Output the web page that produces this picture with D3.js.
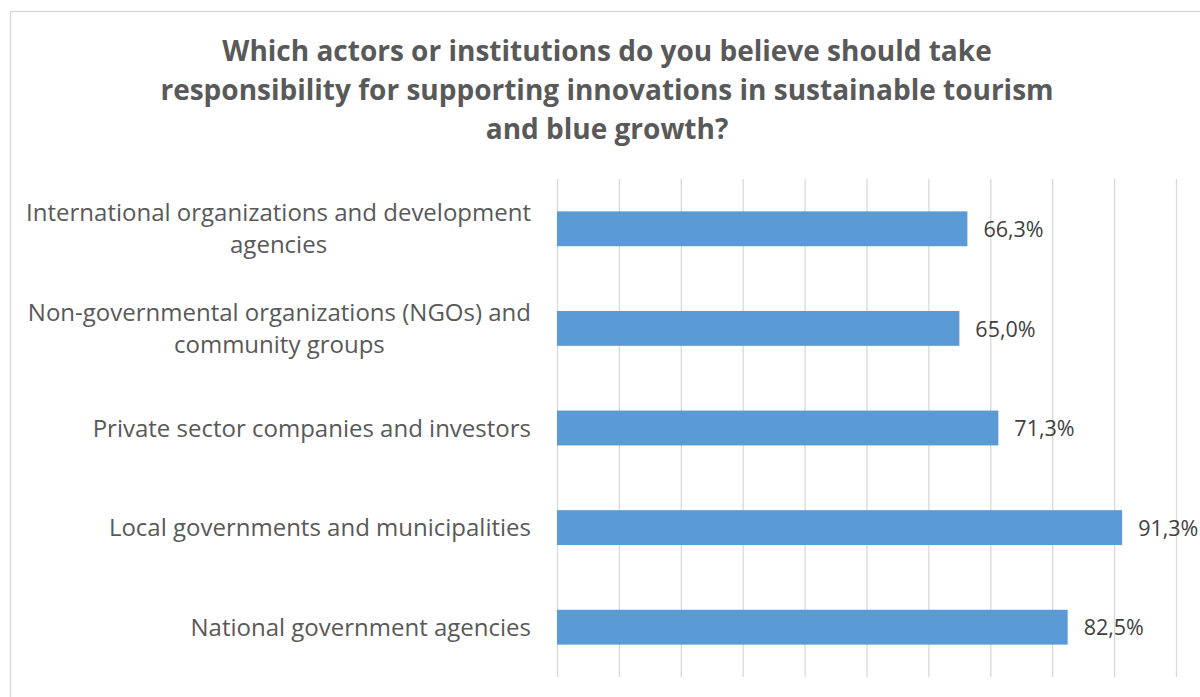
<!DOCTYPE html>
<html>
<head>
<meta charset="utf-8">
<script src="https://cdn.jsdelivr.net/npm/d3@7"></script>
<style>
  html, body { margin: 0; padding: 0; background: #fff; }
  svg { display: block; }
</style>
</head>
<body>
<svg id="chart" width="1200" height="697"></svg>
<script>
// Survey question and responses
const titleLines = [
  "Which actors or institutions do you believe should take",
  "responsibility for supporting innovations in sustainable tourism",
  "and blue growth?"
];
const categories = [
  ["International organizations and development", "agencies"],
  ["Non-governmental organizations (NGOs) and", "community groups"],
  ["Private sector companies and investors"],
  ["Local governments and municipalities"],
  ["National government agencies"]
];
const values = [66.3, 65.0, 71.3, 91.3, 82.5];
const gridTicks = [0, 10, 20, 30, 40, 50, 60, 70, 80, 90, 100];

const svg = d3.select("#chart");
const plot = { left: 557, right: 1176, top: 179, bottom: 677 };
const font = "'Open Sans', 'Noto Sans', sans-serif";

// Chart frame
svg.append("rect")
  .attr("x", 10.5).attr("y", 11.5)
  .attr("width", 1300).attr("height", 800)
  .attr("fill", "#fff").attr("stroke", "#d9d9d9").attr("stroke-width", 1.5);

// Title
svg.append("g").selectAll("text")
  .data(titleLines)
  .join("text")
  .attr("x", 607)
  .attr("y", (d, i) => 61 + i * 39)
  .attr("text-anchor", "middle")
  .attr("font-family", font)
  .attr("font-weight", 700)
  .attr("font-size", 28)
  .attr("fill", "#595959")
  .text(d => d);

const x = d3.scaleLinear().domain([0, 100]).range([plot.left, plot.right]);
const y = d3.scaleBand()
  .domain(d3.range(categories.length))
  .range([plot.top, plot.bottom])
  .paddingInner(0.65).paddingOuter(0.325);

// Vertical gridlines
svg.append("g")
  .attr("transform", `translate(0,${plot.bottom})`)
  .call(d3.axisBottom(x).tickValues(gridTicks).tickSize(-(plot.bottom - plot.top)).tickFormat(""))
  .call(g => g.select(".domain").remove())
  .call(g => g.selectAll(".tick line").attr("stroke", "#d9d9d9").attr("stroke-width", 1.3));

// Bars
svg.append("g").selectAll("rect")
  .data(values)
  .join("rect")
  .attr("x", x(0))
  .attr("y", (d, i) => y(i))
  .attr("width", d => x(d) - x(0))
  .attr("height", y.bandwidth())
  .attr("fill", "#5b9bd5");

// Value labels
const fmt = v => v.toFixed(1).replace(".", ",") + "%";
svg.append("g").selectAll("text")
  .data(values)
  .join("text")
  .attr("x", d => x(d) + 16)
  .attr("y", (d, i) => y(i) + y.bandwidth() / 2)
  .attr("dy", "0.38em")
  .attr("font-family", font)
  .attr("font-size", 21.5)
  .attr("fill", "#404040")
  .text(d => fmt(d));

// Category labels: wrapped lines centred within a right-aligned block
const labelRight = 531, lineH = 32;
const lg = svg.append("g");
categories.forEach((lines, i) => {
  const cy = y(i) + y.bandwidth() / 2;
  const g = lg.append("g");
  const texts = g.selectAll("text")
    .data(lines)
    .join("text")
    .attr("y", (d, j) => cy + (j - (lines.length - 1) / 2) * lineH)
    .attr("dy", "0.36em")
    .attr("text-anchor", "middle")
    .attr("font-family", font)
    .attr("font-size", 24)
    .attr("fill", "#595959")
    .text(d => d);
  let maxW = 0;
  texts.each(function () { maxW = Math.max(maxW, this.getComputedTextLength()); });
  texts.attr("x", labelRight - maxW / 2);
});
</script>
</body>
</html>
